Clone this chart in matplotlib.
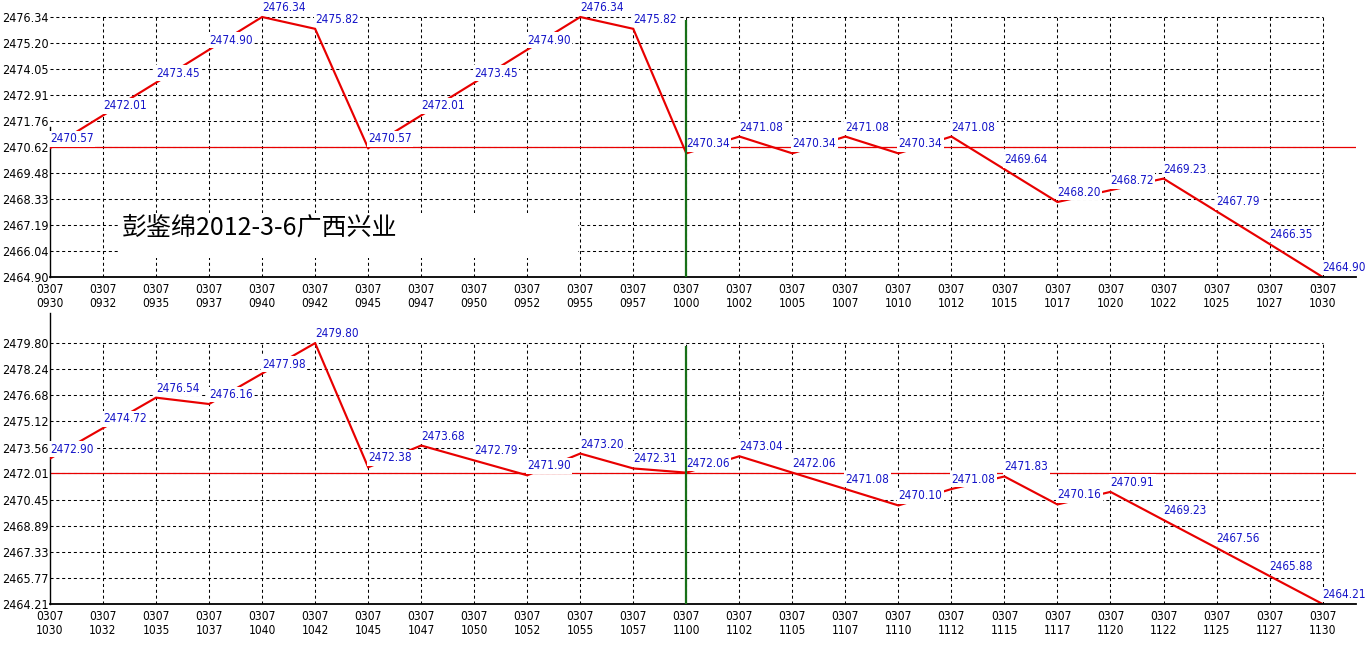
import matplotlib
matplotlib.use("Agg")
import matplotlib.pyplot as plt
from matplotlib import font_manager
from matplotlib.font_manager import FontProperties
from matplotlib.textpath import TextPath
from matplotlib.patches import Rectangle

# ---------------- data ----------------
top_times = ["0930", "0932", "0935", "0937", "0940", "0942", "0945", "0947", "0950",
             "0952", "0955", "0957", "1000", "1002", "1005", "1007", "1010", "1012",
             "1015", "1017", "1020", "1022", "1025", "1027", "1030"]
top_values = [2470.57, 2472.01, 2473.45, 2474.90, 2476.34, 2475.82, 2470.57, 2472.01,
              2473.45, 2474.90, 2476.34, 2475.82, 2470.34, 2471.08, 2470.34, 2471.08,
              2470.34, 2471.08, 2469.64, 2468.20, 2468.72, 2469.23, 2467.79, 2466.35,
              2464.90]
top_yticks = [2464.90, 2466.04, 2467.19, 2468.33, 2469.48, 2470.62, 2471.76, 2472.91,
              2474.05, 2475.20, 2476.34]
top_ref = 2470.62

bot_times = ["1030", "1032", "1035", "1037", "1040", "1042", "1045", "1047", "1050",
             "1052", "1055", "1057", "1100", "1102", "1105", "1107", "1110", "1112",
             "1115", "1117", "1120", "1122", "1125", "1127", "1130"]
bot_values = [2472.90, 2474.72, 2476.54, 2476.16, 2477.98, 2479.80, 2472.38, 2473.68,
              2472.79, 2471.90, 2473.20, 2472.31, 2472.06, 2473.04, 2472.06, 2471.08,
              2470.10, 2471.08, 2471.83, 2470.16, 2470.91, 2469.23, 2467.56, 2465.88,
              2464.21]
bot_yticks = [2464.21, 2465.77, 2467.33, 2468.89, 2470.45, 2472.01, 2473.56, 2475.12,
              2476.68, 2478.24, 2479.80]
bot_ref = 2472.01

date_label = "0307"
title_text = "彭鉴绵2012-3-6广西兴业"

# ---------------- fonts ----------------
flist = font_manager.fontManager.ttflist
names = {f.name for f in flist}
num_family = "Liberation Sans"
num_stretch = "normal"
if "Liberation Sans Narrow" in names:
    num_family = "Liberation Sans Narrow"
elif any(f.name == "DejaVu Sans" and str(f.stretch) in ("condensed", "semi-condensed", "75", "87")
         for f in flist):
    num_family = "DejaVu Sans"
    num_stretch = "condensed"
elif "Liberation Sans" not in names:
    num_family = "DejaVu Sans"

plt.rcParams["font.family"] = [num_family, "DejaVu Sans"]
plt.rcParams["font.stretch"] = num_stretch
plt.rcParams["lines.scale_dashes"] = False


def fit_size(sample, target_px, max_pt):
    fp = FontProperties(family=num_family, stretch=num_stretch, size=10)
    w = TextPath((0, 0), sample, prop=fp).get_extents().width  # in points at size 10
    w_px = w * 100 / 72
    return min(max_pt, 10 * target_px / w_px)


lab_size = fit_size("2476.34", 42.5, 11.5)
tick_size = fit_size("2476.34", 45, 11.5)
xt_size = fit_size("0307", 25.5, 11)

W, H = 1366, 654
fig = plt.figure(figsize=(W / 100, H / 100), dpi=100)
fig.patch.set_facecolor("white")

RED = "#e80000"
BLUE = "#1414c8"
GREEN = "#187018"
xmax = 24.63


def px_ax(left, top, right, bottom):
    return [left / W, 1 - bottom / H, (right - left) / W, (bottom - top) / H]


def panel(rect, times, values, yticks, ref, ylim_top, spine_top, split_idx):
    ax = fig.add_axes(rect)
    n = len(times)
    xs = list(range(n))
    ymin, ymaxv = yticks[0], yticks[-1]
    ax.set_xlim(0, xmax)
    ax.set_ylim(ymin, ylim_top)
    for s in ["top", "right"]:
        ax.spines[s].set_visible(False)
    ax.spines["left"].set_bounds(ymin, spine_top)
    ax.spines["left"].set_linewidth(1.0)
    ax.spines["bottom"].set_linewidth(1.3)
    ax.spines["bottom"].set_zorder(6)
    # grid
    ax.hlines(yticks[1:], 0, n - 1, colors="black", linewidth=0.75,
              linestyles=[(0, (2.2, 2.0))], zorder=1)
    ax.vlines(xs[1:], ymin, ymaxv, colors="black", linewidth=0.75,
              linestyles=[(0, (2.2, 2.0))], zorder=1)
    # reference line
    ax.axhline(ref, color=RED, linewidth=0.9, zorder=2)
    # data line
    ax.plot(xs, values, color=RED, linewidth=1.55, zorder=3, solid_joinstyle="miter")
    # split line
    ax.vlines([split_idx], ymin, ymaxv - (ymaxv - ymin) * 0.012, colors=GREEN,
              linewidth=1.6, zorder=7)
    # value labels
    for x, v in zip(xs, values):
        ax.annotate(f"{v:.2f}", (x, v), xytext=(0, 3), textcoords="offset pixels",
                    ha="left", va="bottom", color=BLUE, fontsize=lab_size, zorder=5,
                    bbox=dict(boxstyle="square,pad=0.12", fc="white", ec="none"),
                    annotation_clip=False)
    ax.set_yticks(yticks)
    ax.set_yticklabels([f"{t:.2f}" for t in yticks], fontsize=tick_size)
    ax.set_xticks(xs)
    ax.set_xticklabels([f"{date_label}\n{t}" for t in times], fontsize=xt_size,
                       linespacing=1.1)
    ax.tick_params(axis="y", length=0, pad=1)
    ax.tick_params(axis="x", length=0, pad=4)
    ax.set_facecolor("white")
    return ax


ax1 = panel(px_ax(50, 0, 1356, 277), top_times, top_values, top_yticks, top_ref,
            2476.34 + 17 / 260 * 11.44, 2471.50, 12)
ax2 = panel(px_ax(50, 313, 1356, 604), bot_times, bot_values, bot_yticks, bot_ref,
            2479.80 + 30 / 260 * 15.59, 2481.6, 12)

# title text with white box
ax1.add_patch(Rectangle((1.32, 2465.736), 9.96 - 1.32, 2467.716 - 2465.736,
                        facecolor="white", edgecolor="none", zorder=4))
ax1.text(1.36, 2467.08, title_text, family=["Noto Sans CJK SC", "DejaVu Sans"],
         fontsize=18, color="black", ha="left", va="center", zorder=5)

fig.savefig("out.png", dpi=100, facecolor="white")
